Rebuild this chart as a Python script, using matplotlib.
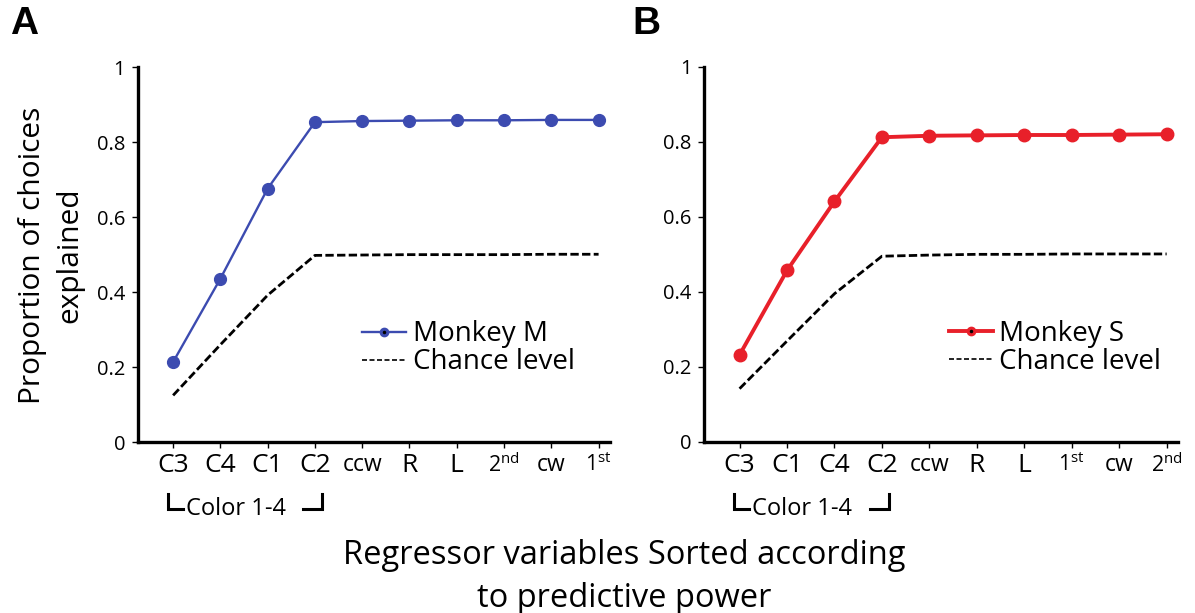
import matplotlib
matplotlib.use('Agg')
import matplotlib.pyplot as plt
from matplotlib.lines import Line2D
from matplotlib.legend_handler import HandlerTuple

plt.rcParams['font.family'] = ['Open Sans', 'DejaVu Sans']
plt.rcParams['mathtext.fontset'] = 'custom'
plt.rcParams['mathtext.rm'] = 'Open Sans'
plt.rcParams['mathtext.it'] = 'Open Sans:italic'
plt.rcParams['mathtext.bf'] = 'Open Sans:bold'

# Monkey M (panel A)
labels_m = ['C3', 'C4', 'C1', 'C2', 'ccw', 'R', 'L', '2$^{\\mathrm{nd}}$', 'cw', '1$^{\\mathrm{st}}$']
vals_m = [0.214, 0.436, 0.676, 0.853, 0.856, 0.857, 0.858, 0.858, 0.859, 0.859]
chance_m = [0.125, 0.26, 0.392, 0.498, 0.499, 0.5, 0.5, 0.5, 0.501, 0.501]

# Monkey S (panel B)
labels_s = ['C3', 'C1', 'C4', 'C2', 'ccw', 'R', 'L', '1$^{\\mathrm{st}}$', 'cw', '2$^{\\mathrm{nd}}$']
vals_s = [0.232, 0.457, 0.641, 0.812, 0.816, 0.817, 0.818, 0.818, 0.819, 0.820]
chance_s = [0.142, 0.269, 0.395, 0.495, 0.498, 0.5, 0.5, 0.501, 0.501, 0.501]

yticks = [0, 0.2, 0.4, 0.6, 0.8, 1]
ytick_labels = ['0', '0.2', '0.4', '0.6', '0.8', '1']


def panel(ax, labels, vals, chance, color, lw, ms, name, leg_x):
    x = list(range(len(labels)))
    ax.plot(x, chance, color='black', lw=2, dashes=(3, 1.2))
    ax.plot(x, vals, color=color, lw=lw, marker='o', ms=ms, zorder=3)

    ax.set_xlim(-0.75, 9.24)
    ax.set_ylim(0, 1)
    ax.set_yticks(yticks)
    ax.set_yticklabels(ytick_labels)
    ax.set_xticks(x)
    ax.set_xticklabels(labels)
    for t in ax.get_xticklabels():
        s = t.get_text()
        if s.startswith('c'):
            t.set_fontsize(16.5)
        elif '$' in s:
            t.set_fontsize(15.5)
        else:
            t.set_fontsize(19)

    for side in ['top', 'right']:
        ax.spines[side].set_visible(False)
    for side in ['left', 'bottom']:
        ax.spines[side].set_linewidth(2.4)
    ax.tick_params(axis='both', direction='out', length=4, width=1)
    ax.tick_params(axis='y', labelsize=14.5, pad=5)
    ax.tick_params(axis='x', pad=4)

    # bracket under the colour regressors
    tr = ax.get_xaxis_transform()
    ax.plot([-0.11, -0.11, 0.2], [-0.138, -0.179, -0.179], color='black', lw=2.2,
            transform=tr, clip_on=False, solid_joinstyle='miter')
    ax.plot([2.74, 3.15, 3.15], [-0.179, -0.179, -0.138], color='black', lw=2.2,
            transform=tr, clip_on=False, solid_joinstyle='miter')
    ax.text(0.27, -0.194, 'Color 1-4', transform=tr, fontsize=17, va='baseline')

    h1 = (Line2D([], [], color=color, lw=lw, marker='o', ms=6),
          Line2D([], [], ls='none', marker='o', ms=1.5, color='black'))
    h2 = Line2D([], [], color='black', lw=1.2, dashes=(3, 1.5))
    ax.legend([h1, h2], [name, 'Chance level'],
              handler_map={tuple: HandlerTuple(ndivide=1)},
              loc='upper left', bbox_to_anchor=(leg_x, 0.325), frameon=False,
              fontsize=20, handlelength=1.58, handletextpad=0.23,
              labelspacing=0, borderpad=0, borderaxespad=0)


fig = plt.figure(figsize=(11.95, 6.13), dpi=100)
ax_a = fig.add_axes([0.1152, 0.2785, 0.3952, 0.6122])
ax_b = fig.add_axes([0.5891, 0.2790, 0.3967, 0.6122])

panel(ax_a, labels_m, vals_m, chance_m, '#3c4bb0', 1.7, 8.5, 'Monkey M', 0.476)
panel(ax_b, labels_s, vals_s, chance_s, '#e8202a', 2.8, 9, 'Monkey S', 0.517)

fig.text(10 / 1195, 1 - 6 / 613, 'A', fontsize=28, fontweight='bold',
         family='Liberation Sans', va='top')
fig.text(632 / 1195, 1 - 6 / 613, 'B', fontsize=28, fontweight='bold',
         family='Liberation Sans', va='top')

fig.text(51 / 1195, 1 - 255 / 613, 'Proportion of choices\nexplained', rotation=90,
         ha='center', va='center', fontsize=21.5, linespacing=1.4)
fig.text(624 / 1195, 1 - 577 / 613, 'Regressor variables Sorted according\nto predictive power',
         ha='center', va='center', fontsize=23.5, linespacing=1.38)

fig.savefig('out.png', dpi=100)
